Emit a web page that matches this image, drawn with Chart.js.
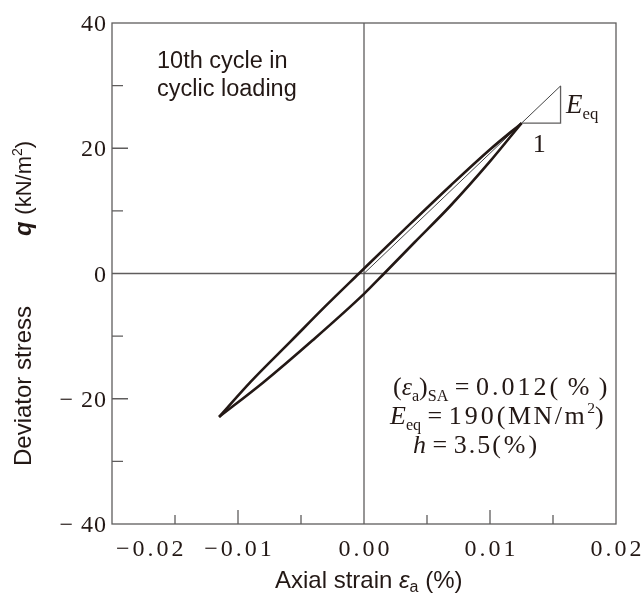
<!DOCTYPE html>
<html>
<head>
<meta charset="utf-8">
<script src="https://cdn.jsdelivr.net/npm/chart.js@4.4.1/dist/chart.umd.min.js"></script>
<style>
  html, body { margin: 0; padding: 0; background: #fff; }
  #wrap { width: 643px; height: 594px; }
</style>
</head>
<body>
<div id="wrap"><canvas id="loop"></canvas></div>
<script>
// axial strain (%) and deviator stress (kN/m2)
const unloadStrain = [-0.0115, -0.009, -0.0058, -0.003, -0.0004, 0.0035, 0.0069, 0.0100, 0.0125];
const unloadStress = [-22.9, -17.3, -10.8, -5.1, 0.0, 7.6, 14.1, 19.8, 24.0];
const reloadStrain = [-0.0115, -0.008, -0.0041, 0.0, 0.0016, 0.004, 0.0069, 0.0100, 0.0125];
const reloadStress = [-22.9, -17.4, -10.7, -3.25, 0.0, 4.95, 10.9, 17.9, 24.0];

// secant line (E_eq) and the slope triangle
const secantStrain = [0.0, 0.0156];
const secantStress = [0.0, 29.95];
const triStrain = [0.0125, 0.0156, 0.0156];
const triStress = [24.0, 24.0, 29.95];

const xTickValues = [-0.015, -0.01, -0.005, 0.005, 0.01, 0.015];
const xMajor = [-0.01, 0.01];
const xLabelValues = [-0.02, -0.01, 0, 0.01, 0.02];
const xLabels = ['−0.02', '−0.01', '0.00', '0.01', '0.02'];
const yTickValues = [30, 20, 10, -10, -20, -30];
const yMajor = [20, -20];
const yLabelValues = [40, 20, 0, -20, -40];
const yLabels = ['40', '20', '0', '− 20', '− 40'];

const pts = (xs, ys) => xs.map((x, i) => ({ x: x, y: ys[i] }));

const INK = '#231815';
const FRAME = '#5f5d5d';
const SERIF = '"Liberation Serif", "DejaVu Serif", serif';
const SANS = '"Liberation Sans", Arial, sans-serif';

// draw a run of text pieces: {t, it, sub, sup, ls}
function richText(ctx, x, y, pieces, size) {
  let cx = x;
  pieces.forEach((p) => {
    let s = size, dy = 0;
    if (p.sub) { s = size * 0.62; dy = size * 0.22; }
    if (p.sup) { s = size * 0.6; dy = -size * 0.42; }
    ctx.font = (p.it ? 'italic ' : '') + s + 'px ' + SERIF;
    ctx.letterSpacing = (p.ls || 0) + 'px';
    ctx.fillText(p.t, cx, y + dy);
    cx += ctx.measureText(p.t).width;
  });
  ctx.letterSpacing = '0px';
}

const framePlugin = {
  id: 'frame',
  beforeDatasetsDraw(chart) {
    const { ctx, chartArea: a, scales } = chart;
    const xs = scales.x, ys = scales.y;
    ctx.save();
    ctx.strokeStyle = FRAME;
    ctx.lineWidth = 1.3;
    ctx.strokeRect(a.left, a.top, a.right - a.left, a.bottom - a.top);
    // zero lines
    ctx.beginPath();
    const x0 = xs.getPixelForValue(0), y0 = ys.getPixelForValue(0);
    ctx.moveTo(x0, a.top); ctx.lineTo(x0, a.bottom);
    ctx.moveTo(a.left, y0); ctx.lineTo(a.right, y0);
    // inward ticks
    xTickValues.forEach((v) => {
      const px = xs.getPixelForValue(v);
      const len = xMajor.includes(v) ? 14 : 9;
      ctx.moveTo(px, a.bottom); ctx.lineTo(px, a.bottom - len);
    });
    yTickValues.forEach((v) => {
      const py = ys.getPixelForValue(v);
      const len = yMajor.includes(v) ? 16 : 11;
      ctx.moveTo(a.left, py); ctx.lineTo(a.left + len, py);
    });
    ctx.stroke();
    ctx.restore();
  },
  afterDraw(chart) {
    const { ctx, chartArea: a, scales } = chart;
    const xs = scales.x, ys = scales.y;
    ctx.save();
    ctx.fillStyle = INK;
    ctx.textBaseline = 'alphabetic';

    // tick labels
    ctx.font = '24px ' + SERIF;
    ctx.letterSpacing = '3px';
    xLabelValues.forEach((v, i) => {
      let px = xs.getPixelForValue(v) + 1.5;
      ctx.textAlign = 'center';
      if (i === 0) { ctx.textAlign = 'left'; px = a.left + 4; }
      ctx.fillText(xLabels[i], px, a.bottom + 32);
    });
    ctx.letterSpacing = '1px';
    ctx.textAlign = 'right';
    yLabelValues.forEach((v, i) => {
      ctx.fillText(yLabels[i], a.left - 5, ys.getPixelForValue(v) + 8);
    });
    ctx.letterSpacing = '0px';

    // axis titles
    ctx.textAlign = 'left';
    ctx.font = '24px ' + SANS;
    let tx = 275;
    const ty = 588;
    ctx.fillText('Axial strain ', tx, ty); tx += ctx.measureText('Axial strain ').width;
    ctx.font = 'italic 24px ' + SANS;
    ctx.fillText('ε', tx, ty); tx += ctx.measureText('ε').width;
    ctx.font = '16px ' + SANS;
    ctx.fillText('a', tx, ty + 4); tx += ctx.measureText('a').width;
    ctx.font = '24px ' + SANS;
    ctx.fillText(' (%)', tx, ty);

    ctx.save();
    ctx.translate(31, 466);
    ctx.rotate(-Math.PI / 2);
    ctx.font = '24px ' + SANS;
    ctx.fillText('Deviator stress', 0, 0);
    let ry = 230;
    ctx.font = 'italic bold 24px ' + SANS;
    ctx.fillText('q', ry, 0); ry += ctx.measureText('q ').width;
    ctx.font = '22px ' + SANS;
    ctx.fillText('(kN/m', ry, 0); ry += ctx.measureText('(kN/m').width;
    ctx.font = '14px ' + SANS;
    ctx.fillText('2', ry, -9); ry += ctx.measureText('2').width;
    ctx.font = '22px ' + SANS;
    ctx.fillText(')', ry, 0);
    ctx.restore();

    // cycle note
    ctx.font = '23.5px ' + SANS;
    ctx.fillText('10th cycle in', 157, 68);
    ctx.fillText('cyclic loading', 157, 96);

    // triangle labels
    richText(ctx, 566, 113, [{ t: 'E', it: true }, { t: 'eq', sub: true }], 27);
    ctx.font = '26px ' + SERIF;
    ctx.textAlign = 'center';
    ctx.fillText('1', xs.getPixelForValue(0.0139), 152);
    ctx.textAlign = 'left';

    // result box
    const fs = 26;
    richText(ctx, 393, 395, [
      { t: '(' }, { t: 'ε', it: true }, { t: 'a', sub: true }, { t: ')' },
      { t: 'SA', sub: true }, { t: ' = ' }, { t: '0.012', ls: 3 }, { t: '( % )', ls: 1.5 }
    ], fs);
    richText(ctx, 390, 424, [
      { t: 'E', it: true }, { t: 'eq', sub: true }, { t: ' = ' }, { t: '190', ls: 3 },
      { t: '(MN/m', ls: 2.5 }, { t: '2', sup: true }, { t: ')' }
    ], fs);
    richText(ctx, 413, 453, [
      { t: 'h', it: true }, { t: ' = ' }, { t: '3.5', ls: 2 }, { t: '(%)', ls: 3 }
    ], fs);
    ctx.restore();
  }
};

new Chart(document.getElementById('loop'), {
  type: 'scatter',
  data: {
    datasets: [
      { data: pts(unloadStrain, unloadStress), showLine: true, borderColor: INK, borderWidth: 2.6,
        pointRadius: 0, cubicInterpolationMode: 'monotone' },
      { data: pts(reloadStrain, reloadStress), showLine: true, borderColor: INK, borderWidth: 2.6,
        pointRadius: 0, cubicInterpolationMode: 'monotone' },
      { data: pts(secantStrain, secantStress), showLine: true, borderColor: '#444', borderWidth: 1,
        pointRadius: 0 },
      { data: pts(triStrain, triStress), showLine: true, borderColor: FRAME, borderWidth: 1.3,
        pointRadius: 0 }
    ]
  },
  options: {
    responsive: true,
    maintainAspectRatio: false,
    animation: false,
    layout: { padding: { left: 112, right: 27, top: 23, bottom: 70 } },
    plugins: { legend: { display: false }, tooltip: { enabled: false } },
    scales: {
      x: { type: 'linear', min: -0.02, max: 0.02, display: false },
      y: { type: 'linear', min: -40, max: 40, display: false }
    }
  },
  plugins: [framePlugin]
});
</script>
</body>
</html>
